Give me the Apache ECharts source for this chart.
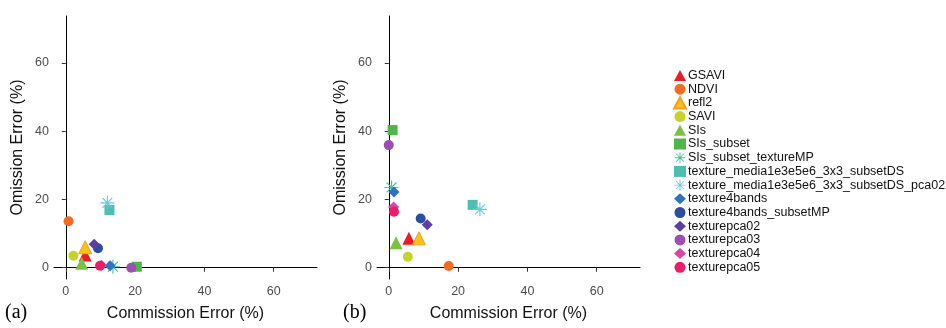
<!DOCTYPE html>
<html>
<head>
    <meta charset="utf-8">
    <title>Omission vs commission error</title>
    <script src="https://cdn.jsdelivr.net/npm/echarts@6.0.0/dist/echarts.min.js"></script>
    <style>
        html, body { margin: 0; padding: 0; background: #fff; }
    </style>
</head>
<body>
<div id="main" style="width: 946px;height: 328px"></div>
<script type="text/javascript">
    // methods, in legend order
    var methods = ['GSAVI', 'NDVI', 'refl2', 'SAVI', 'SIs', 'SIs_subset', 'SIs_subset_textureMP',
        'texture_media1e3e5e6_3x3_subsetDS', 'texture_media1e3e5e6_3x3_subsetDS_pca02',
        'texture4bands', 'texture4bands_subsetMP', 'texturepca02', 'texturepca03', 'texturepca04', 'texturepca05'];
    var shapes = ['triangle', 'circle', 'triangle', 'circle', 'triangle', 'square', 'asterisk',
        'square', 'asterisk', 'diamond', 'circle', 'diamond', 'circle', 'diamond', 'circle'];
    var colors = ['#ec1c24', '#f26b21', '#f8c21a', '#c3d52d', '#7cc242', '#4cb748', '#4cbfa0',
        '#4dbfb2', '#66c9e0', '#2e72c0', '#2b4ea2', '#5d3fa3', '#9e4db3', '#d946a3', '#ec1c6a'];

    // panel (a)
    var commissionA = [5.6, 0.8, 5.6, 2.2, 4.6, 20.5, 13.6, 12.6, 12.0, 12.8, 9.3, 8.2, 18.9, 10.3, 9.9];
    var omissionA = [3.7, 13.6, 6.0, 3.5, 1.3, 0.3, 0.3, 16.9, 19.0, 0.6, 5.7, 6.9, 0.0, 0.7, 0.6];
    // panel (b)
    var commissionB = [5.8, 17.3, 8.7, 5.5, 2.1, 1.1, 0.8, 24.2, 26.3, 1.5, 9.2, 11.1, 0.0, 1.4, 1.5];
    var omissionB = [8.6, 0.5, 8.6, 3.2, 7.3, 40.3, 23.5, 18.4, 17.1, 22.2, 14.4, 12.6, 35.9, 17.8, 16.4];

    var tickValues = [0, 20, 40, 60];

    var asterisk = 'path://M0 46L100 46L100 54L0 54Z M46 0L54 0L54 100L46 100Z' +
        'M17.4 11.8L88.2 82.6L82.6 88.2L11.8 17.4Z M82.6 11.8L88.2 17.4L17.4 88.2L11.8 82.6Z';
    var symbolOf = {triangle: 'triangle', circle: 'circle', square: 'rect', diamond: 'diamond', asterisk: asterisk};
    var sizeOf = {triangle: 13, circle: 10, square: 10, diamond: 11, asterisk: 14};

    function xAxisFor(gi) {
        return {
            gridIndex: gi, type: 'value', min: -3.4, max: 72.5,
            name: 'Commission Error (%)', nameLocation: 'middle', nameGap: 27,
            nameTextStyle: {fontSize: 16, color: '#111', fontFamily: 'Liberation Sans'},
            axisLine: {lineStyle: {color: '#000', width: 1}},
            axisTick: {length: 4, lineStyle: {color: '#333'}, customValues: tickValues},
            axisLabel: {fontSize: 12.5, color: '#4d4d4d', margin: 6, fontFamily: 'Liberation Sans', customValues: tickValues},
            splitLine: {show: false}
        };
    }

    function yAxisFor(gi) {
        return {
            gridIndex: gi, type: 'value', min: -3.3, max: 73.7,
            name: 'Omission Error (%)', nameLocation: 'middle', nameGap: 28,
            nameTextStyle: {fontSize: 16, color: '#111', fontFamily: 'Liberation Sans'},
            axisLine: {show: true, lineStyle: {color: '#000', width: 1}},
            axisTick: {show: true, length: 4, lineStyle: {color: '#333'}, customValues: tickValues},
            axisLabel: {fontSize: 12.5, color: '#4d4d4d', margin: 5, fontFamily: 'Liberation Sans', customValues: tickValues},
            splitLine: {show: false}
        };
    }

    var series = [];
    [[commissionA, omissionA], [commissionB, omissionB]].forEach(function (panel, gi) {
        methods.forEach(function (name, i) {
            var shp = shapes[i];
            series.push({
                name: name,
                type: 'scatter',
                xAxisIndex: gi,
                yAxisIndex: gi,
                symbol: symbolOf[shp],
                symbolSize: sizeOf[shp],
                itemStyle: {
                    color: colors[i],
                    borderColor: name === 'refl2' ? '#f0a020' : colors[i],
                    borderWidth: name === 'refl2' ? 1 : 0,
                    opacity: 1
                },
                emphasis: {disabled: true},
                data: [[panel[0][i], panel[1][i]]]
            });
        });
    });

    var option = {
        animation: false,
        backgroundColor: '#fff',
        grid: [
            {left: 54, top: 16, width: 263, height: 263},
            {left: 377, top: 16, width: 263, height: 263}
        ],
        xAxis: [xAxisFor(0), xAxisFor(1)],
        yAxis: [yAxisFor(0), yAxisFor(1)],
        legend: {
            orient: 'vertical',
            left: 673,
            top: 69,
            itemWidth: 12,
            itemHeight: 11,
            itemGap: 0.7,
            padding: 0,
            data: methods,
            textStyle: {fontSize: 12.5, color: '#111', fontFamily: 'Liberation Sans', lineHeight: 11, padding: [0, 0, 0, -3]}
        },
        graphic: [
            {type: 'text', left: 5, top: 303, style: {text: '(a)', font: '20px "Liberation Serif"', fill: '#000'}},
            {type: 'text', left: 343, top: 303, style: {text: '(b)', font: '20px "Liberation Serif"', fill: '#000'}}
        ],
        series: series
    };

    var chart = echarts.init(document.getElementById('main'), null, {renderer: 'canvas'});
    chart.setOption(option);
</script>
</body>
</html>
